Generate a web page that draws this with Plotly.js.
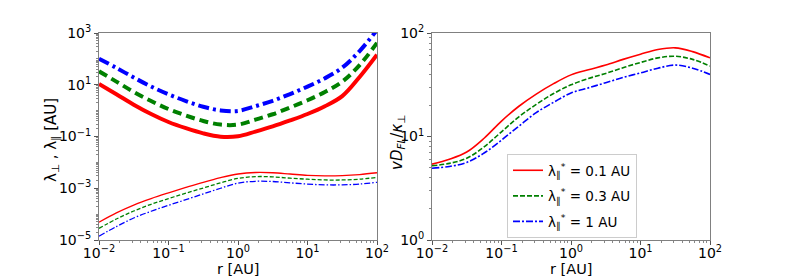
<!DOCTYPE html>
<html>
<head>
<meta charset="utf-8">
<script src="https://cdn.plot.ly/plotly-3.0.1.min.js"></script>
<style>html,body{margin:0;padding:0;background:#fff;}#chart{width:789px;height:276px;}</style>
</head>
<body>
<div id="chart"></div>
<script>
// radial distance r [AU]
const r = [0.01, 0.0178, 0.0316, 0.0562, 0.1, 0.178, 0.316, 0.562, 1, 1.78, 3.16, 5.62, 10, 17.8, 31.6, 56.2, 100];

// parallel mean free path lambda_par [AU]
const lamPar01 = [10.7, 4.3, 1.7, 0.74, 0.363, 0.209, 0.132, 0.098, 0.102, 0.155, 0.245, 0.417, 0.741, 1.48, 3.63, 20.0, 145];
const lamPar03 = [33.1, 13.2, 5.25, 2.34, 1.15, 0.646, 0.398, 0.288, 0.288, 0.447, 0.724, 1.32, 2.51, 5.25, 13.2, 57.5, 417];
const lamPar1  = [102, 44.7, 19.1, 8.51, 4.27, 2.34, 1.41, 1.02, 0.977, 1.48, 2.40, 4.37, 8.51, 17.8, 45.7, 200, 1318];

// perpendicular mean free path lambda_perp [AU]
const lamPerp01 = [4.9e-5, 1.12e-4, 2.24e-4, 3.98e-4, 6.61e-4, 1.07e-3, 1.70e-3, 2.57e-3, 3.55e-3, 4.07e-3, 3.98e-3, 3.55e-3, 3.16e-3, 3.02e-3, 3.09e-3, 3.39e-3, 3.98e-3];
const lamPerp03 = [2.82e-5, 6.46e-5, 1.32e-4, 2.40e-4, 3.98e-4, 6.46e-4, 1.02e-3, 1.62e-3, 2.40e-3, 2.82e-3, 2.75e-3, 2.45e-3, 2.24e-3, 2.09e-3, 2.09e-3, 2.24e-3, 2.63e-3];
const lamPerp1  = [1.41e-5, 3.31e-5, 7.08e-5, 1.29e-4, 2.19e-4, 3.63e-4, 6.03e-4, 1.0e-3, 1.58e-3, 1.86e-3, 1.82e-3, 1.62e-3, 1.45e-3, 1.35e-3, 1.35e-3, 1.45e-3, 1.70e-3];

// ratio v D_FL / kappa_perp
const ratio01 = [5.41, 6.03, 7.08, 9.62, 14.1, 19.6, 25.7, 32.4, 39.4, 44.2, 49.0, 55.6, 62.4, 69.2, 71.9, 66.1, 57.5];
const ratio03 = [5.21, 5.50, 6.17, 7.94, 11.1, 15.5, 20.4, 26.0, 31.6, 36.3, 40.7, 46.2, 51.9, 57.5, 59.6, 55.6, 47.9];
const ratio1  = [4.94, 5.13, 5.62, 6.92, 9.23, 12.6, 17.0, 21.4, 26.3, 29.5, 33.1, 37.2, 41.2, 45.7, 49.0, 45.7, 39.8];

const legendNames = ['λ<sub>∥</sub><sup>*</sup> = 0.1 AU', 'λ<sub>∥</sub><sup>*</sup> = 0.3 AU', 'λ<sub>∥</sub><sup>*</sup> = 1 AU'];
const colors = ['#ff0000', '#008000', '#0000ff'];

const xTickVals = [0.01, 0.1, 1, 10, 100];
const xTickText = ['10<sup>−2</sup>', '10<sup>−1</sup>', '10<sup>0</sup>', '10<sup>1</sup>', '10<sup>2</sup>'];
const yLTickVals = [1e-5, 1e-3, 1e-1, 10, 1000];
const yLTickText = ['10<sup>−5</sup>', '10<sup>−3</sup>', '10<sup>−1</sup>', '10<sup>1</sup>', '10<sup>3</sup>'];
const yRTickVals = [1, 10, 100];
const yRTickText = ['10<sup>0</sup>', '10<sup>1</sup>', '10<sup>2</sup>'];

const xTitle = 'r [AU]';
const yLTitle = 'λ<sub>⊥</sub> , λ<sub>∥</sub> [AU]';
const yRTitle = '<i>vD</i><sub><i>FL</i></sub>/<i>κ</i><sub>⊥</sub>';

const thickDash = ['solid', '9px,5px', '11px,4px,3px,4px'];
const thinDash = ['solid', '4px,2px', '6px,2px,1.5px,2px'];
const rDash = ['solid', '5px,2px', '7px,2px,2px,2px'];

const par = [lamPar01, lamPar03, lamPar1];
const perp = [lamPerp01, lamPerp03, lamPerp1];
const rat = [ratio01, ratio03, ratio1];

const traces = [];
for (let i = 0; i < 3; i++) {
  traces.push({x: r, y: par[i], xaxis: 'x', yaxis: 'y', mode: 'lines', showlegend: false,
    line: {color: colors[i], width: 4, dash: thickDash[i], shape: 'spline'}});
  traces.push({x: r, y: perp[i], xaxis: 'x', yaxis: 'y', mode: 'lines', showlegend: false,
    line: {color: colors[i], width: 1.3, dash: thinDash[i], shape: 'spline'}});
}
for (let i = 0; i < 3; i++) {
  traces.push({x: r, y: rat[i], xaxis: 'x2', yaxis: 'y2', mode: 'lines', name: legendNames[i],
    legendgroup: 'g' + i,
    line: {color: colors[i], width: 1.6, dash: rDash[i], shape: 'spline'}});
}

const axisCommon = {
  type: 'log', showgrid: false, zeroline: false, showline: true, mirror: true,
  linecolor: '#808080', linewidth: 1, ticks: 'outside', ticklen: 4, tickwidth: 1, tickcolor: '#555',
  tickfont: {family: 'DejaVu Sans', size: 14, color: '#000'},
  minor: {ticks: 'outside', ticklen: 2, tickcolor: '#888', dtick: 'D1'}
};

const W = 789, H = 276, MT = 33, MB = 36;
const PH = H - MT - MB;
const px = v => v / W, py = v => 1 - (v - MT) / PH;
const titleFont = {family: 'DejaVu Sans', size: 15, color: '#000'};
const xTitleFont = {family: 'DejaVu Sans', size: 14.5, color: '#000'};

const layout = {
  width: W, height: H,
  margin: {l: 0, r: 0, t: MT, b: MB},
  paper_bgcolor: '#fff', plot_bgcolor: '#fff',
  font: {family: 'DejaVu Sans', color: '#000'},
  xaxis: Object.assign({}, axisCommon, {domain: [99/W, 377/W], anchor: 'y',
    range: [-2, 2], tickmode: 'array', tickvals: xTickVals, ticktext: xTickText, ticklabelstandoff: -4}),
  yaxis: Object.assign({}, axisCommon, {anchor: 'x', range: [-5, 3], tickmode: 'array',
    tickvals: yLTickVals, ticktext: yLTickText}),
  xaxis2: Object.assign({}, axisCommon, {domain: [432/W, 710/W], anchor: 'y2',
    range: [-2, 2], tickmode: 'array', tickvals: xTickVals, ticktext: xTickText, ticklabelstandoff: -4}),
  yaxis2: Object.assign({}, axisCommon, {anchor: 'x2', range: [0, 2], tickmode: 'array',
    tickvals: yRTickVals, ticktext: yRTickText}),
  annotations: [
    {text: xTitle, xref: 'paper', yref: 'paper', x: px(238), y: py(269), showarrow: false, font: xTitleFont, xanchor: 'center', yanchor: 'middle'},
    {text: xTitle, xref: 'paper', yref: 'paper', x: px(571), y: py(269), showarrow: false, font: xTitleFont, xanchor: 'center', yanchor: 'middle'},
    {text: yLTitle, xref: 'paper', yref: 'paper', x: px(52), y: py(140), showarrow: false, font: titleFont, textangle: -90, xanchor: 'center', yanchor: 'middle'},
    {text: yRTitle, xref: 'paper', yref: 'paper', x: px(397), y: py(143), showarrow: false, font: titleFont, textangle: -90, xanchor: 'center', yanchor: 'middle'}
  ],
  showlegend: true,
  legend: {x: 507/W, y: py(154), xanchor: 'left', yanchor: 'top', tracegroupgap: 5,
    bgcolor: '#fff', bordercolor: '#cccccc', borderwidth: 1,
    font: {family: 'DejaVu Sans', size: 13.5, color: '#000'}, itemwidth: 30}
};

Plotly.newPlot('chart', traces, layout, {staticPlot: true, displayModeBar: false});
</script>
</body>
</html>
